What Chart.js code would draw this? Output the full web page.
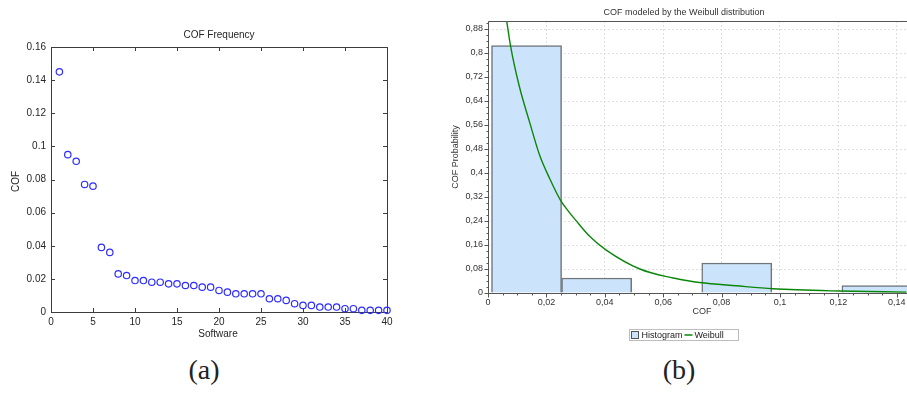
<!DOCTYPE html>
<html>
<head>
<meta charset="utf-8">
<script src="https://cdn.jsdelivr.net/npm/chart.js@4.4.0/dist/chart.umd.min.js"></script>
<style>
  html, body { margin: 0; padding: 0; background: #fff; width: 907px; height: 394px; overflow: hidden; }
  body { position: relative; }
  #ca { position: absolute; left: 0; top: 0; }
  #cb { position: absolute; left: 440px; top: 0; }
  .cap { position: absolute; top: 356px; font-family: "Liberation Serif", serif; font-size: 28px; line-height: 1; color: #222; transform: translateX(-50%); }
</style>
</head>
<body>
<canvas id="ca" width="440" height="345"></canvas>
<canvas id="cb" width="467" height="350"></canvas>
<div class="cap" style="left:204px">(a)</div>
<div class="cap" style="left:679px">(b)</div>
<script>
// (a) COF value per software package, sorted descending
const software = [1, 2, 3, 4, 5, 6, 7, 8, 9, 10, 11, 12, 13, 14, 15, 16, 17, 18, 19, 20,
                  21, 22, 23, 24, 25, 26, 27, 28, 29, 30, 31, 32, 33, 34, 35, 36, 37, 38, 39, 40];
const cofFrequency = [0.145, 0.095, 0.091, 0.077, 0.076, 0.039, 0.036, 0.023, 0.022, 0.019,
                      0.019, 0.018, 0.018, 0.017, 0.017, 0.016, 0.016, 0.015, 0.015, 0.013,
                      0.012, 0.011, 0.011, 0.011, 0.011, 0.008, 0.008, 0.007, 0.005, 0.004,
                      0.004, 0.003, 0.003, 0.003, 0.002, 0.002, 0.001, 0.001, 0.001, 0.001];
const softwareTicks = [0, 5, 10, 15, 20, 25, 30, 35, 40];
const cofTicks = [0, 0.02, 0.04, 0.06, 0.08, 0.1, 0.12, 0.14, 0.16];

// (b) histogram of COF (relative frequency) and the fitted Weibull density
const binCenters = [0.0132, 0.0372, 0.0612, 0.0852, 0.1092, 0.1332];
const binProbability = [0.825, 0.05, 0, 0.1, 0, 0.025];
const weibullX = [0.0064, 0.0077, 0.0107, 0.0143, 0.0176, 0.0212, 0.0249, 0.0275, 0.030, 0.0348,
                  0.0405, 0.052, 0.0634, 0.069, 0.0725, 0.085, 0.0976, 0.1204, 0.1433];
const weibullY = [0.907, 0.825, 0.69, 0.568, 0.462, 0.38, 0.308, 0.273, 0.243, 0.189,
                  0.143, 0.080, 0.050, 0.040, 0.035, 0.024, 0.014, 0.0065, 0.003];
const cofAxisTicks = [0, 0.02, 0.04, 0.06, 0.08, 0.1, 0.12, 0.14];
const cofAxisLabels = ['0', '0,02', '0,04', '0,06', '0,08', '0,1', '0,12', '0,14'];
const probTicks = [0, 0.08, 0.16, 0.24, 0.32, 0.4, 0.48, 0.56, 0.64, 0.72, 0.8, 0.88];
const probLabels = ['0', '0,08', '0,16', '0,24', '0,32', '0,4', '0,48', '0,56', '0,64', '0,72', '0,8', '0,88'];

const SANS = '"Liberation Sans", Arial, sans-serif';

function text(ctx, str, x, y, font, color, rot) {
  ctx.save();
  ctx.font = font;
  ctx.fillStyle = color;
  ctx.textAlign = 'center';
  ctx.textBaseline = 'middle';
  ctx.translate(x, y);
  if (rot) ctx.rotate(rot);
  ctx.fillText(str, 0, 0);
  ctx.restore();
}

function noPad(s) { s.paddingLeft = 0; s.paddingRight = 0; s.paddingTop = 0; s.paddingBottom = 0; }

// MATLAB style box with inward ticks on all four sides
const boxFrame = {
  id: 'boxFrame',
  beforeDatasetsDraw(chart) {
    const { ctx, chartArea: a, scales: { x, y } } = chart;
    ctx.save();
    ctx.strokeStyle = '#3c3c3c';
    ctx.lineWidth = 1;
    ctx.strokeRect(Math.round(a.left) + 0.5, Math.round(a.top) + 0.5,
                   Math.round(a.right - a.left), Math.round(a.bottom - a.top));
    ctx.beginPath();
    x.ticks.forEach(t => {
      const px = Math.round(x.getPixelForValue(t.value)) + 0.5;
      ctx.moveTo(px, a.bottom); ctx.lineTo(px, a.bottom - 4);
      ctx.moveTo(px, a.top); ctx.lineTo(px, a.top + 4);
    });
    y.ticks.forEach(t => {
      const py = Math.round(y.getPixelForValue(t.value)) + 0.5;
      ctx.moveTo(a.left, py); ctx.lineTo(a.left + 4, py);
      ctx.moveTo(a.right, py); ctx.lineTo(a.right - 4, py);
    });
    ctx.stroke();
    ctx.restore();
  },
  afterDraw(chart) {
    const { ctx, chartArea: a } = chart;
    const cx = (a.left + a.right) / 2;
    text(ctx, 'COF Frequency', cx, 35, '10px ' + SANS, '#262626');
    text(ctx, 'Software', cx - 1, 334, '10px ' + SANS, '#262626');
    text(ctx, 'COF', 16, (a.top + a.bottom) / 2 + 2, '10px ' + SANS, '#262626', -Math.PI / 2);
  }
};

new Chart(document.getElementById('ca'), {
  type: 'scatter',
  data: {
    datasets: [{
      data: software.map((s, i) => ({ x: s, y: cofFrequency[i] })),
      pointStyle: 'circle',
      pointRadius: 3.2,
      pointBorderWidth: 1.2,
      pointBorderColor: 'rgb(45,45,255)',
      pointBackgroundColor: 'rgba(0,0,0,0)',
      clip: false
    }]
  },
  options: {
    responsive: false,
    animation: false,
    layout: { padding: { top: 47, right: 53, left: 0, bottom: 0 } },
    plugins: { legend: { display: false }, tooltip: { enabled: false }, title: { display: false } },
    scales: {
      x: {
        type: 'linear', min: 0, max: 40,
        afterBuildTicks: s => { s.ticks = softwareTicks.map(v => ({ value: v })); },
        afterFit: s => { s.height = 33; noPad(s); },
        ticks: { font: { size: 10, family: SANS }, color: '#262626', padding: 4, maxRotation: 0, autoSkip: false },
        grid: { display: false, drawTicks: false },
        border: { display: false }
      },
      y: {
        type: 'linear', min: 0, max: 0.16,
        afterBuildTicks: s => { s.ticks = cofTicks.map(v => ({ value: v })); },
        afterFit: s => { s.width = 51; noPad(s); },
        ticks: { font: { size: 10, family: SANS }, color: '#262626', padding: 5, autoSkip: false,
                 callback: (v, i) => String(cofTicks[i]) },
        grid: { display: false, drawTicks: false },
        border: { display: false }
      }
    }
  },
  plugins: [boxFrame]
});

// Frame, outside ticks, titles and legend of the histogram chart
const histFrame = {
  id: 'histFrame',
  afterDatasetsDraw(chart) {
    const { ctx, chartArea: a, scales: { x, y } } = chart;
    ctx.save();
    ctx.lineWidth = 1;
    ctx.strokeStyle = '#555';
    ctx.beginPath();
    const L = Math.round(a.left) + 0.5, T = Math.round(a.top) + 0.5, B = Math.round(a.bottom) + 0.5;
    ctx.moveTo(L, T); ctx.lineTo(a.right, T);
    ctx.moveTo(L, T); ctx.lineTo(L, B);
    ctx.moveTo(L, B); ctx.lineTo(a.right, B);
    // major and minor ticks
    for (let v = 0; v <= y.max + 1e-9; v += 0.02) {
      const py = Math.round(y.getPixelForValue(v)) + 0.5;
      const major = Math.abs(v / 0.08 - Math.round(v / 0.08)) < 1e-6;
      ctx.moveTo(L, py); ctx.lineTo(L - (major ? 4 : 2), py);
    }
    for (let v = 0; v <= x.max + 1e-9; v += 0.005) {
      const px = Math.round(x.getPixelForValue(v)) + 0.5;
      const major = Math.abs(v / 0.02 - Math.round(v / 0.02)) < 1e-6;
      ctx.moveTo(px, B); ctx.lineTo(px, B + (major ? 4 : 2));
    }
    ctx.stroke();
    ctx.restore();
  },
  afterDraw(chart) {
    const { ctx } = chart;
    const f = '9px ' + SANS;
    text(ctx, 'COF modeled by the Weibull distribution', 244, 13, f, '#333');
    text(ctx, 'COF', 262, 312, f, '#333');
    text(ctx, 'COF Probability', 16, 157, f, '#333', -Math.PI / 2);

    // legend
    const bars = chart.data.datasets[1], line = chart.data.datasets[0];
    ctx.save();
    ctx.font = f;
    const w1 = ctx.measureText(bars.label).width, w2 = ctx.measureText(line.label).width;
    const total = 2 + 8 + 3 + w1 + 2 + 8 + 2 + w2 + 14;
    const bx = Math.round(244 - total / 2) + 0.5, by = 329.5;
    ctx.strokeStyle = '#bdbdbd';
    ctx.strokeRect(bx, by, Math.round(total), 11);
    let cx = bx + 2;
    ctx.fillStyle = bars.backgroundColor;
    ctx.fillRect(cx, by + 2, 7, 7);
    ctx.strokeStyle = '#555';
    ctx.strokeRect(cx, by + 2, 7, 7);
    cx += 10;
    ctx.fillStyle = '#222';
    ctx.textBaseline = 'middle';
    ctx.textAlign = 'left';
    ctx.fillText(bars.label, cx, by + 6);
    cx += w1 + 2;
    ctx.strokeStyle = line.borderColor;
    ctx.lineWidth = 1.5;
    ctx.beginPath(); ctx.moveTo(cx, by + 5.5); ctx.lineTo(cx + 8, by + 5.5); ctx.stroke();
    cx += 10;
    ctx.fillText(line.label, cx, by + 6);
    ctx.restore();
  }
};

new Chart(document.getElementById('cb'), {
  type: 'bar',
  data: {
    datasets: [{
      type: 'line',
      label: 'Weibull',
      data: weibullX.map((v, i) => ({ x: v, y: weibullY[i] })),
      borderColor: '#0a870a',
      borderWidth: 1.4,
      pointRadius: 0,
      cubicInterpolationMode: 'monotone',
      order: 0
    }, {
      type: 'bar',
      label: 'Histogram',
      data: binCenters.map((c, i) => ({ x: c, y: binProbability[i] })),
      backgroundColor: '#cce4fb',
      borderColor: '#6f757c',
      borderWidth: 1.5,
      borderSkipped: 'bottom',
      barThickness: 'flex',
      barPercentage: 1,
      categoryPercentage: 1,
      order: 1
    }]
  },
  options: {
    responsive: false,
    animation: false,
    layout: { padding: { top: 21, right: 0, left: 0, bottom: 0 } },
    plugins: { legend: { display: false }, tooltip: { enabled: false }, title: { display: false } },
    scales: {
      x: {
        type: 'linear', min: 0, max: 0.1435, offset: false,
        afterBuildTicks: s => { s.ticks = cofAxisTicks.map(v => ({ value: v })); },
        afterFit: s => { s.height = 57; noPad(s); },
        ticks: { font: { size: 9, family: SANS }, color: '#333', padding: 4, maxRotation: 0, autoSkip: false,
                 callback: (v, i) => cofAxisLabels[i] },
        grid: { color: '#dedede', drawTicks: false, offset: false },
        border: { display: false, dash: [2, 2] }
      },
      y: {
        type: 'linear', min: 0, max: 0.9067,
        afterBuildTicks: s => { s.ticks = probTicks.map(v => ({ value: v })); },
        afterFit: s => { s.width = 48; noPad(s); },
        ticks: { font: { size: 9, family: SANS }, color: '#333', padding: 5, autoSkip: false,
                 callback: (v, i) => probLabels[i] },
        grid: { color: '#dedede', drawTicks: false },
        border: { display: false, dash: [2, 2] }
      }
    }
  },
  plugins: [histFrame]
});
</script>
</body>
</html>
